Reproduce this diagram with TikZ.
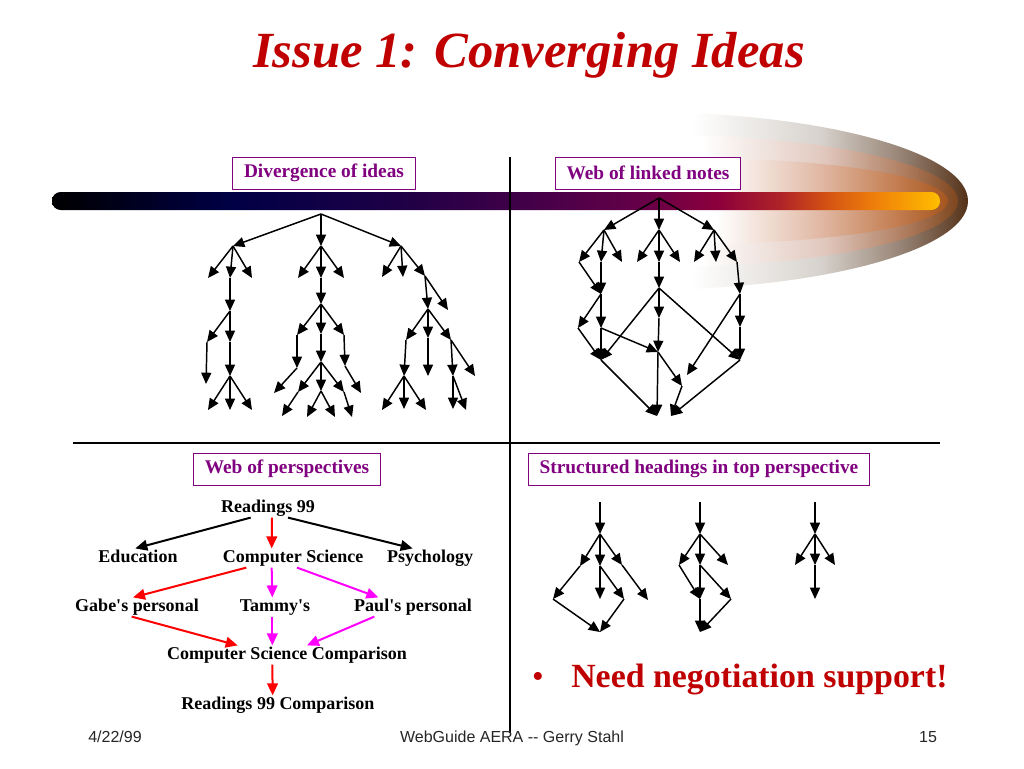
\documentclass[tikz,border=0pt]{standalone}
\usepackage{fontspec}
\setmainfont{Liberation Serif}
\setsansfont{Liberation Sans}
\usepackage{xcolor}
\usepackage{tikz}
\usetikzlibrary{arrows.meta,positioning}
\definecolor{titlered}{RGB}{192,0,0}
\definecolor{labpurple}{RGB}{128,0,128}
\definecolor{redln}{RGB}{255,0,0}
\definecolor{magln}{RGB}{255,0,255}
\definecolor{barA}{RGB}{0,0,70}
\definecolor{barB}{RGB}{30,0,70}
\definecolor{barC}{RGB}{60,0,72}
\definecolor{barD}{RGB}{100,0,72}
\definecolor{barE}{RGB}{140,0,60}
\definecolor{barF}{RGB}{175,35,40}
\definecolor{barG}{RGB}{210,80,20}
\definecolor{barH}{RGB}{240,130,10}
\definecolor{barI}{RGB}{255,190,0}
\definecolor{swA}{RGB}{215,210,205}
\definecolor{swB}{RGB}{150,130,115}
\definecolor{swC}{RGB}{85,50,25}
\definecolor{swD}{RGB}{225,200,190}
\definecolor{swE}{RGB}{175,125,95}
\definecolor{swF}{RGB}{125,70,30}
\definecolor{swG}{RGB}{225,185,165}
\definecolor{swH}{RGB}{195,125,80}
\definecolor{swI}{RGB}{165,85,30}
\pgfdeclarehorizontalshading{barshade}{100bp}{color(0bp)=(black); color(25bp)=(black); color(35bp)=(barA); color(44.5bp)=(barB); color(50.5bp)=(barC); color(58bp)=(barD); color(62.5bp)=(barE); color(66bp)=(barF); color(68.5bp)=(barG); color(71.5bp)=(barH); color(75bp)=(barI); color(100bp)=(barI)}
\pgfdeclarehorizontalshading{swouter}{100bp}{color(0bp)=(white); color(33bp)=(white); color(52.5bp)=(swA); color(65bp)=(swB); color(75bp)=(swC); color(100bp)=(swC)}
\pgfdeclarehorizontalshading{swmid}{100bp}{color(0bp)=(white); color(32bp)=(white); color(52.5bp)=(swD); color(66bp)=(swE); color(75bp)=(swF); color(100bp)=(swF)}
\pgfdeclarehorizontalshading{swinner}{100bp}{color(0bp)=(white); color(30bp)=(white); color(50bp)=(swG); color(65bp)=(swH); color(75bp)=(swI); color(100bp)=(swI)}
\tikzset{tr/.style={-{Triangle[length=8.5pt,width=7.5pt]},line width=1.1pt}}
\tikzset{pa/.style={-{Triangle[length=9pt,width=8pt]},line width=1.5pt}}
\tikzset{lab/.style={draw=labpurple,line width=0.75pt,fill=white,text=labpurple,font=\fontsize{14.5}{16}\selectfont\bfseries,inner xsep=8.5pt,inner ysep=0pt,minimum height=24pt}}
\tikzset{pers/.style={font=\fontsize{13.5}{15}\selectfont\bfseries,inner sep=1pt,text height=9.5pt,text depth=2.5pt}}
\tikzset{foot/.style={font=\sffamily\fontsize{12}{14}\selectfont,text=black!85,anchor=base}}

\begin{document}
\begin{tikzpicture}[x=0.75pt,y=-0.75pt]
    \useasboundingbox (0,0) rectangle (1024,768);
    \fill[white] (0,0) rectangle (1024,768);

    \shade[shading=swouter] (640,112) .. controls (821,112) and (968,152) .. (968,201) .. controls (968,250) and (821,290) .. (640,290) -- cycle;
    \shade[shading=swmid] (660,135) .. controls (825,135) and (958,165) .. (958,201) .. controls (958,237) and (825,267) .. (660,267) -- cycle;
    \shade[shading=swinner] (690,158) .. controls (832,158) and (948,177) .. (948,201) .. controls (948,225) and (832,244) .. (690,244) -- cycle;
    \shade[shading=barshade,rounded corners=6.5pt] (52,192) rectangle (940,210);

    \node[font=\fontsize{38}{44}\selectfont\bfseries\itshape,text=titlered,anchor=base] (title) at (529,67) {Issue 1: Converging Ideas};

    \coordinate (vtop) at (510,157);
    \coordinate (vbot) at (510,733);
    \coordinate (hleft) at (73,443);
    \coordinate (hright) at (940,443);
    \draw[line width=1.5pt] (vtop) -- (vbot);
    \draw[line width=1.5pt] (hleft) -- (hright);

    \node[lab] (divlab) at (324,173) {Divergence of ideas};
    \node[lab] (weblab) at (648,173) {Web of linked notes};
    \node[lab] (perlab) at (287,469) {Web of perspectives};
    \node[lab] (strlab) at (699,469) {Structured headings in top perspective};

    \coordinate (d0) at (321,214);
    \coordinate (dA) at (233,246);
    \coordinate (dB) at (321,246);
    \coordinate (dC) at (401,246);
    \coordinate (dA1) at (208,278);
    \coordinate (dA2) at (230,278);
    \coordinate (dA3) at (252,278);
    \coordinate (dA4) at (230,311);
    \coordinate (dA5) at (207,342);
    \coordinate (dA6) at (230,342);
    \coordinate (dA7) at (206,384);
    \coordinate (dA8) at (230,376);
    \coordinate (dA9) at (208,410);
    \coordinate (dA10) at (230,410);
    \coordinate (dA11) at (252,410);
    \coordinate (dB1) at (298,278);
    \coordinate (dB2) at (321,278);
    \coordinate (dB3) at (344,278);
    \coordinate (dB4) at (321,304);
    \coordinate (dB5) at (297,335);
    \coordinate (dB6) at (321,334);
    \coordinate (dB7) at (344,335);
    \coordinate (dB8) at (297,368);
    \coordinate (dB9) at (274,393);
    \coordinate (dB10) at (321,362);
    \coordinate (dB11) at (345,366);
    \coordinate (dB12) at (361,393);
    \coordinate (dB13) at (298,392);
    \coordinate (dB14) at (321,391);
    \coordinate (dB15) at (344,392);
    \coordinate (dB16) at (282,416);
    \coordinate (dB17) at (307,417);
    \coordinate (dB18) at (335,417);
    \coordinate (dB19) at (352,417);
    \coordinate (dC1) at (382,277);
    \coordinate (dC2) at (403,277);
    \coordinate (dC3) at (425,276);
    \coordinate (dC4) at (428,309);
    \coordinate (dC5) at (448,310);
    \coordinate (dC6) at (406,340);
    \coordinate (dC7) at (428,338);
    \coordinate (dC8) at (451,340);
    \coordinate (dC9) at (404,376);
    \coordinate (dC10) at (428,376);
    \coordinate (dC11) at (453,376);
    \coordinate (dC12) at (475,376);
    \coordinate (dC13) at (382,410);
    \coordinate (dC14) at (404,409);
    \coordinate (dC15) at (426,410);
    \coordinate (dC16) at (453,409);
    \coordinate (dC17) at (466,410);

    \draw [tr] (d0) to (dA);
    \draw [tr] (d0) to (dB);
    \draw [tr] (d0) to (dC);
    \draw [tr] (dA) to (dA1);
    \draw [tr] (dA) to (dA2);
    \draw [tr] (dA) to (dA3);
    \draw [tr] (dA2) to (dA4);
    \draw [tr] (dA4) to (dA5);
    \draw [tr] (dA4) to (dA6);
    \draw [tr] (dA5) to (dA7);
    \draw [tr] (dA6) to (dA8);
    \draw [tr] (dA8) to (dA9);
    \draw [tr] (dA8) to (dA10);
    \draw [tr] (dA8) to (dA11);
    \draw [tr] (dB) to (dB1);
    \draw [tr] (dB) to (dB2);
    \draw [tr] (dB) to (dB3);
    \draw [tr] (dB2) to (dB4);
    \draw [tr] (dB4) to (dB5);
    \draw [tr] (dB4) to (dB6);
    \draw [tr] (dB4) to (dB7);
    \draw [tr] (dB5) to (dB8);
    \draw [tr] (dB8) to (dB9);
    \draw [tr] (dB6) to (dB10);
    \draw [tr] (dB7) to (dB11);
    \draw [tr] (dB11) to (dB12);
    \draw [tr] (dB10) to (dB13);
    \draw [tr] (dB10) to (dB14);
    \draw [tr] (dB10) to (dB15);
    \draw [tr] (dB13) to (dB16);
    \draw [tr] (dB14) to (dB17);
    \draw [tr] (dB14) to (dB18);
    \draw [tr] (dB15) to (dB19);
    \draw [tr] (dC) to (dC1);
    \draw [tr] (dC) to (dC2);
    \draw [tr] (dC) to (dC3);
    \draw [tr] (dC3) to (dC4);
    \draw [tr] (dC3) to (dC5);
    \draw [tr] (dC4) to (dC6);
    \draw [tr] (dC4) to (dC7);
    \draw [tr] (dC4) to (dC8);
    \draw [tr] (dC6) to (dC9);
    \draw [tr] (dC7) to (dC10);
    \draw [tr] (dC8) to (dC11);
    \draw [tr] (dC8) to (dC12);
    \draw [tr] (dC9) to (dC13);
    \draw [tr] (dC9) to (dC14);
    \draw [tr] (dC9) to (dC15);
    \draw [tr] (dC11) to (dC16);
    \draw [tr] (dC11) to (dC17);

    \coordinate (w0) at (659,198);
    \coordinate (wA) at (604,230);
    \coordinate (wB) at (659,230);
    \coordinate (wC) at (714,230);
    \coordinate (wA1) at (579,262);
    \coordinate (wA2) at (601,262);
    \coordinate (wA3) at (622,262);
    \coordinate (wB1) at (637,262);
    \coordinate (wB2) at (659,262);
    \coordinate (wB3) at (680,262);
    \coordinate (wC1) at (694,262);
    \coordinate (wC2) at (716,262);
    \coordinate (wC3) at (737,262);
    \coordinate (wD) at (601,294);
    \coordinate (wE) at (659,288);
    \coordinate (wF) at (740,294);
    \coordinate (wD1) at (578,328);
    \coordinate (wD2) at (601,328);
    \coordinate (wE1) at (659,318);
    \coordinate (wF1) at (740,327);
    \coordinate (wF2) at (687,375);
    \coordinate (wG) at (601,360);
    \coordinate (wI) at (658,352);
    \coordinate (wH) at (740,360);
    \coordinate (wJ) at (682,386);
    \coordinate (wK) at (657,416);
    \coordinate (wL) at (671,416);

    \draw [tr] (w0) to (wA);
    \draw [tr] (w0) to (wB);
    \draw [tr] (w0) to (wC);
    \draw [tr] (wA) to (wA1);
    \draw [tr] (wA) to (wA2);
    \draw [tr] (wA) to (wA3);
    \draw [tr] (wB) to (wB1);
    \draw [tr] (wB) to (wB2);
    \draw [tr] (wB) to (wB3);
    \draw [tr] (wC) to (wC1);
    \draw [tr] (wC) to (wC2);
    \draw [tr] (wC) to (wC3);
    \draw [tr] (wA1) to (wD);
    \draw [tr] (wA2) to (wD);
    \draw [tr] (wB2) to (wE);
    \draw [tr] (wC3) to (wF);
    \draw [tr] (wD) to (wD1);
    \draw [tr] (wD) to (wD2);
    \draw [tr] (wD1) to (wG);
    \draw [tr] (wD2) to (wG);
    \draw [tr] (wD2) to (wI);
    \draw [tr] (wE) to (wG);
    \draw [tr] (wE) to (wE1);
    \draw [tr] (wE) to (wH);
    \draw [tr] (wE1) to (wI);
    \draw [tr] (wF) to (wF1);
    \draw [tr] (wF) to (wF2);
    \draw [tr] (wF1) to (wH);
    \draw [tr] (wI) to (wK);
    \draw [tr] (wI) to (wJ);
    \draw [tr] (wJ) to (wL);
    \draw [tr] (wG) to (wK);
    \draw [tr] (wH) to (wL);

    \node[pers] (r99) at (268,508) {Readings 99};
    \node[pers] (edu) at (138,558) {Education};
    \node[pers] (cs) at (293,558) {Computer Science};
    \node[pers] (psy) at (430,558) {Psychology};
    \node[pers] (gabe) at (137,607) {Gabe\textquotesingle s personal};
    \node[pers] (tam) at (275,607) {Tammy\textquotesingle s};
    \node[pers] (paul) at (413,607) {Paul\textquotesingle s personal};
    \node[pers] (csc) at (287,655) {Computer Science Comparison};
    \node[pers] (r99c) at (278,705) {Readings 99 Comparison};

    \draw [pa] ([xshift=-13pt]r99.south) to ([xshift=-2pt]edu.north);
    \draw [pa,redln] ([xshift=3pt]r99.south) to ([xshift=-16pt]cs.north);
    \draw [pa] ([xshift=15pt]r99.south) to ([xshift=-13pt]psy.north);
    \draw [pa,redln] ([xshift=-35pt]cs.south) to ([xshift=-3pt]gabe.north);
    \draw [pa,magln] ([xshift=-16pt]cs.south) to ([xshift=-2pt]tam.north);
    \draw [pa,magln] ([xshift=3pt]cs.south) to ([xshift=-26pt]paul.north);
    \draw [pa,redln] ([xshift=-4pt]gabe.south) to ([xshift=-37pt]csc.north);
    \draw [pa,magln] ([xshift=-2pt]tam.south) to ([xshift=-11pt]csc.north);
    \draw [pa,magln] ([xshift=-29pt]paul.south) to ([xshift=15pt]csc.north);
    \draw [pa,redln] ([xshift=-11pt]csc.south) to ([xshift=-4pt]r99c.north);

    \coordinate (s0) at (600,502);
    \coordinate (sP) at (600,534);
    \coordinate (sQ1) at (580,566);
    \coordinate (sQ2) at (600,566);
    \coordinate (sQ3) at (622,565);
    \coordinate (sR1) at (553,599);
    \coordinate (sR2) at (600,599);
    \coordinate (sR3) at (624,599);
    \coordinate (sR4) at (648,600);
    \coordinate (sS) at (600,632);
    \coordinate (t0) at (700,502);
    \coordinate (tP) at (700,534);
    \coordinate (tQ1) at (679,565);
    \coordinate (tQ2) at (700,565);
    \coordinate (tQ3) at (728,565);
    \coordinate (tR1) at (700,599);
    \coordinate (tR2) at (731,599);
    \coordinate (tS) at (700,632);
    \coordinate (u0) at (815,502);
    \coordinate (uP) at (815,534);
    \coordinate (uQ1) at (795,565);
    \coordinate (uQ2) at (815,565);
    \coordinate (uQ3) at (835,565);
    \coordinate (uR) at (815,599);

    \draw [tr] (s0) to (sP);
    \draw [tr] (sP) to (sQ1);
    \draw [tr] (sP) to (sQ2);
    \draw [tr] (sP) to (sQ3);
    \draw [tr] (sQ1) to (sR1);
    \draw [tr] (sQ2) to (sR2);
    \draw [tr] (sQ2) to (sR3);
    \draw [tr] (sQ3) to (sR4);
    \draw [tr] (sR1) to (sS);
    \draw [tr] (sR3) to (sS);
    \draw [tr] (t0) to (tP);
    \draw [tr] (tP) to (tQ1);
    \draw [tr] (tP) to (tQ2);
    \draw [tr] (tP) to (tQ3);
    \draw [tr] (tQ1) to (tR1);
    \draw [tr] (tQ2) to (tR1);
    \draw [tr] (tQ2) to (tR2);
    \draw [tr] (tR1) to (tS);
    \draw [tr] (tR2) to (tS);
    \draw [tr] (u0) to (uP);
    \draw [tr] (uP) to (uQ1);
    \draw [tr] (uP) to (uQ2);
    \draw [tr] (uP) to (uQ3);
    \draw [tr] (uQ2) to (uR);

    \node[font=\fontsize{25}{28}\selectfont,text=titlered,anchor=base] (bul) at (538,687) {\textbullet};
    \node[font=\fontsize{25.4}{28}\selectfont\bfseries,text=titlered,anchor=base west,inner sep=0pt] (need) at (571,687) {Need negotiation support!};

    \node[foot] (date) at (115,742) {4/22/99};
    \node[foot] (who) at (512,742) {WebGuide AERA -{}- Gerry Stahl};
    \node[foot] (page) at (928,742) {15};
\end{tikzpicture}
\end{document}
